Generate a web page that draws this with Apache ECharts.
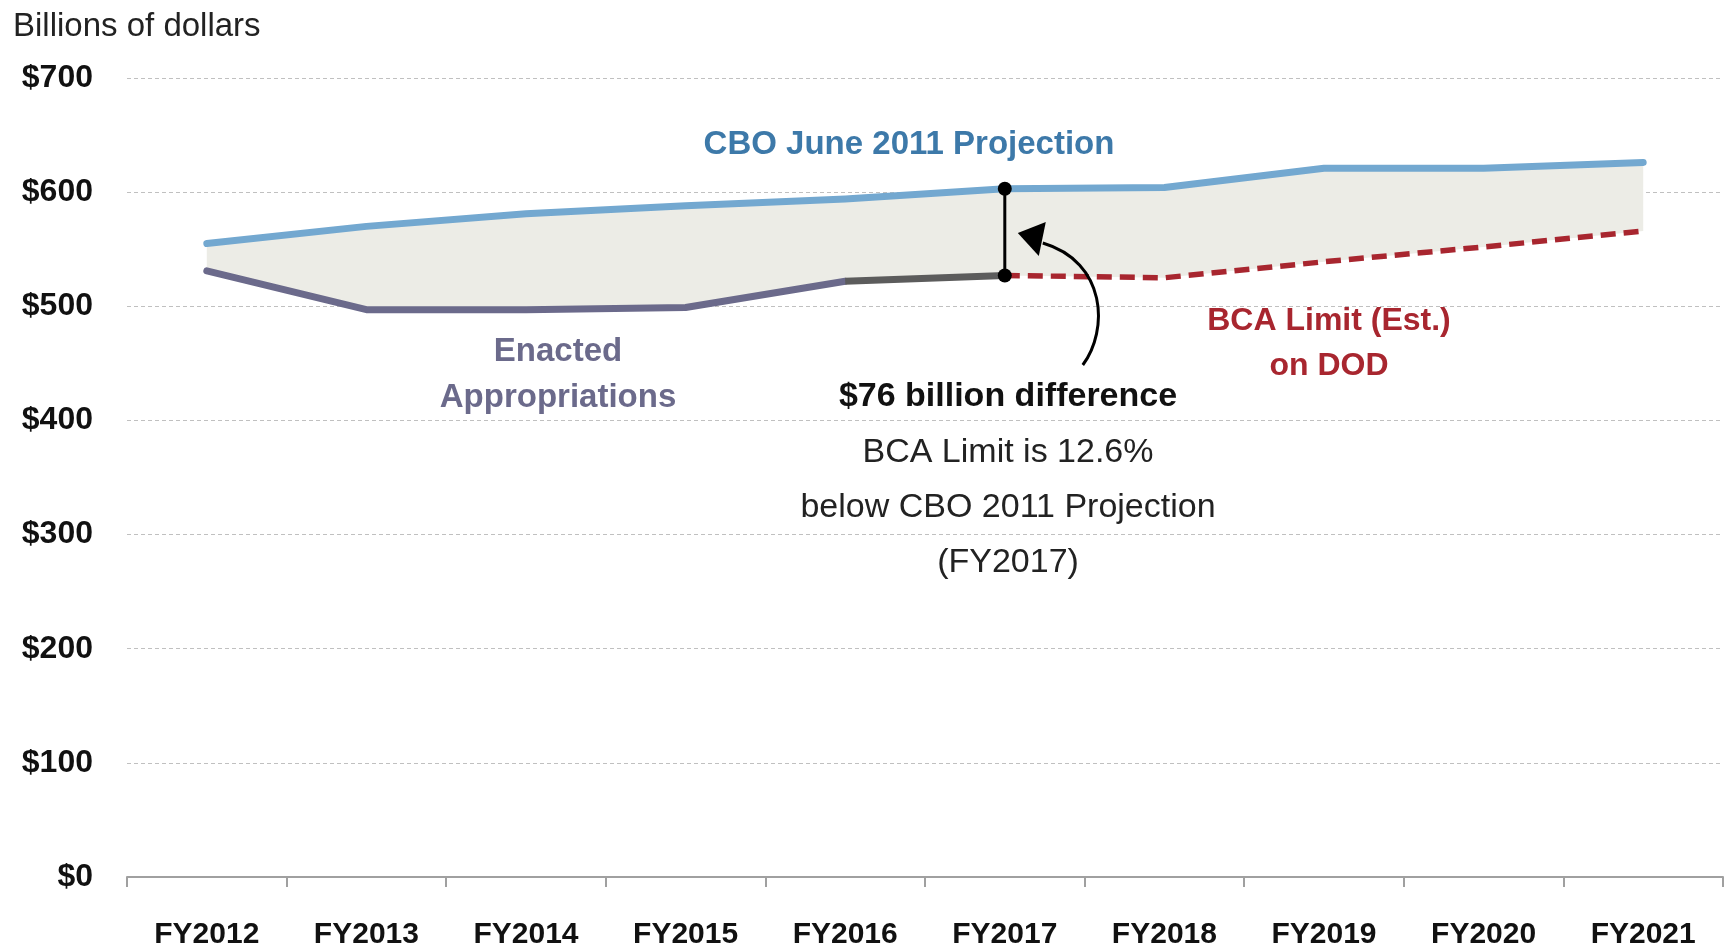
<!DOCTYPE html>
<html><head><meta charset="utf-8">
<script src="https://cdn.jsdelivr.net/npm/echarts@6/dist/echarts.min.js"></script>
<style>html,body{margin:0;padding:0;background:#fff}#c{width:1729px;height:950px}</style>
</head><body><div id="c"></div>
<script>
const categories = ['FY2012','FY2013','FY2014','FY2015','FY2016','FY2017','FY2018','FY2019','FY2020','FY2021'];
const yTicks = [0,100,200,300,400,500,600,700];
const cboProjection = [555,570,581,588,594,603,604,621,621,626];
const enactedAppropriations = [531,497,497,499,522,527]; // FY2012-FY2017
const bcaLimit = [527,525,539,552,566]; // FY2017-FY2021

(function(){
const FONT = "'Liberation Sans',Arial,sans-serif";
const bcaStart = categories.indexOf('FY2017');
const enactedMain = categories.map((c,i)=> i<=4 ? enactedAppropriations[i] : null);
const enactedDark = categories.map((c,i)=> (i>=4 && i<=5) ? enactedAppropriations[i] : null);
const bcaFull = categories.map((c,i)=> i>=bcaStart ? bcaLimit[i-bcaStart] : null);
const lower = categories.map((c,i)=> i<bcaStart ? enactedAppropriations[i] : bcaLimit[i-bcaStart]);
const gap = cboProjection.map((v,i)=> v - lower[i]);

const chart = echarts.init(document.getElementById('c'), null, {renderer:'canvas'});
chart.setOption({
  animation:false,
  backgroundColor:'#fff',
  textStyle:{fontFamily:FONT},
  grid:{left:127,right:6,top:78,bottom:71,containLabel:false},
  xAxis:{type:'category',data:categories,boundaryGap:true,
    axisLine:{lineStyle:{color:'#a0a0a0',width:2}},
    axisTick:{show:true,length:10,lineStyle:{color:'#a0a0a0',width:2}},
    axisLabel:{interval:0,color:'#111',fontWeight:'bold',fontSize:30,fontFamily:FONT,margin:43},
    splitLine:{show:false}},
  yAxis:{type:'value',min:yTicks[0],max:yTicks[yTicks.length-1],interval:100,
    axisLine:{show:false},axisTick:{show:false},
    axisLabel:{color:'#111',fontWeight:'bold',fontSize:32,fontFamily:FONT,margin:34,formatter:v=>'$'+v},
    splitLine:{lineStyle:{color:'#c0c0c0',type:[4,3],width:1}}},
  series:[
    {type:'line',stack:'band',data:lower,symbol:'none',lineStyle:{opacity:0},silent:true,z:1},
    {type:'line',stack:'band',data:gap,symbol:'none',lineStyle:{opacity:0},areaStyle:{color:'#ecece6',opacity:1},silent:true,z:1},
    {type:'line',name:'CBO June 2011 Projection',data:cboProjection,symbol:'none',lineStyle:{color:'#73a8d0',width:7,cap:'round',join:'round'},z:5},
    {type:'line',name:'Enacted Appropriations',data:enactedMain,symbol:'none',lineStyle:{color:'#6b6a8b',width:7,cap:'round',join:'round'},z:5},
    {type:'line',name:'Enacted (FY2016-17)',data:enactedDark,symbol:'none',lineStyle:{color:'#5c5c5c',width:7,cap:'butt'},z:5},
    {type:'line',name:'BCA Limit',data:bcaFull,symbol:'none',lineStyle:{color:'#a8262f',width:5.5,type:[15,8]},z:5}
  ]
});

const pTop = chart.convertToPixel({xAxisIndex:0,yAxisIndex:0},['FY2017',cboProjection[bcaStart]]);
const pBot = chart.convertToPixel({xAxisIndex:0,yAxisIndex:0},['FY2017',bcaLimit[0]]);
const bx = pTop[0];
function txt(text,x,y,size,weight,color,lh){
  return {type:'text',x:x,y:y,z:100,style:{text:text,fill:color,font:weight+' '+size+'px '+FONT,textAlign:'center',textVerticalAlign:'middle',lineHeight:lh||size}};
}
chart.setOption({graphic:[
  {type:'text',x:13,y:27,z:100,style:{text:'Billions of dollars',fill:'#222',font:'33px '+FONT,textAlign:'left',textVerticalAlign:'middle'}},
  txt('CBO June 2011 Projection',909,145,33,'bold','#3d79a9'),
  txt('Enacted\nAppropriations',558,375,33,'bold','#6b6a8b',46),
  txt('BCA Limit (Est.)\non DOD',1329,344,32,'bold','#a8262f',45),
  txt('$76 billion difference',1008,397,34,'bold','#111'),
  txt('BCA Limit is 12.6%\nbelow CBO 2011 Projection\n(FY2017)',1008,508,34,'normal','#222',55),
  {type:'line',z:90,shape:{x1:bx,y1:pTop[1],x2:bx,y2:pBot[1]},style:{stroke:'#000',lineWidth:3}},
  {type:'circle',z:91,shape:{cx:pTop[0],cy:pTop[1],r:7},style:{fill:'#000'}},
  {type:'circle',z:91,shape:{cx:pBot[0],cy:pBot[1],r:7},style:{fill:'#000'}},
  {type:'bezierCurve',z:90,shape:{x1:bx+78,y1:365,cpx1:bx+104,cpy1:330,cpx2:bx+102,cpy2:262,x2:bx+38,y2:243},style:{stroke:'#000',lineWidth:3,fill:null}},
  {type:'polygon',z:91,shape:{points:[[bx+13,233],[bx+41,222],[bx+34,256]]},style:{fill:'#000'}}
]});
})();
</script></body></html>
